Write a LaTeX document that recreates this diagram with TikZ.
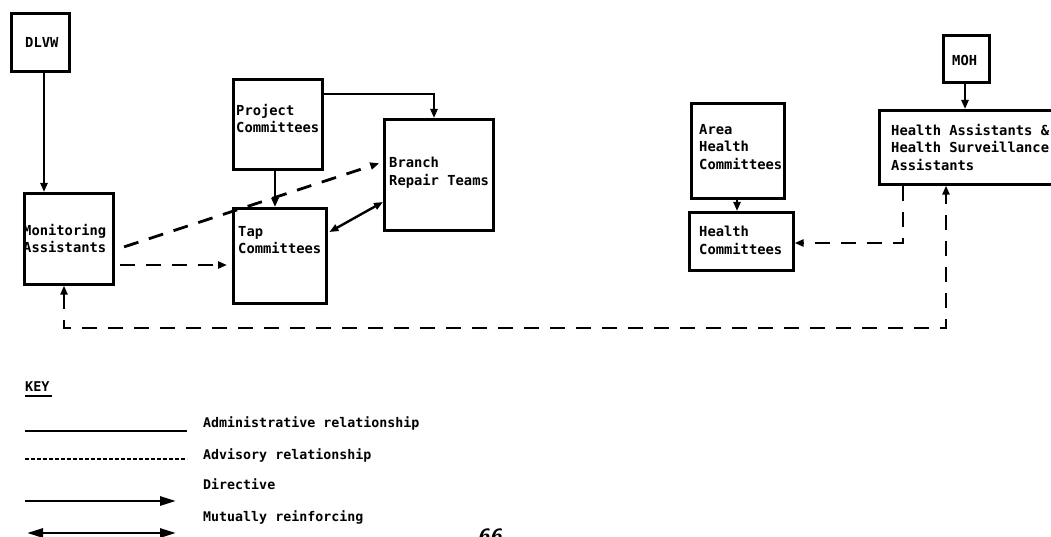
\documentclass[tikz,border=0pt]{standalone}
\usepackage{fontspec}
\newfontfamily\dmono{DejaVu Sans Mono}
\usetikzlibrary{arrows.meta,calc}

\tikzset{
  box/.style={draw, line width=2.6pt, rectangle, inner sep=0pt, anchor=north west},
  lbl/.style={font=\dmono\bfseries\fontsize{13.8}{17.5}\selectfont, align=left,
              inner sep=0pt, anchor=north west},
  rel/.style={line width=2.4pt},
  adv/.style={line width=2.8pt, dash pattern=on 15pt off 11pt},
  tip/.style={-{Triangle[length=9pt,width=7pt]}},
  tips/.style={{Triangle[length=9pt,width=7pt]}-{Triangle[length=9pt,width=7pt]}},
}

\begin{document}
\begin{tikzpicture}[x=1pt,y=-1pt]
\useasboundingbox (0,0) rectangle (1051,537);

% ---- organisation boxes
\node[box, minimum width=58pt, minimum height=58pt]  (dlvw) at (10,12)  {};
\node[box, minimum width=89pt, minimum height=91pt]  (ma)   at (23,192) {};
\node[box, minimum width=89pt, minimum height=90pt]  (pc)   at (232,78) {};
\node[box, minimum width=93pt, minimum height=95pt]  (tc)   at (232,207) {};
\node[box, minimum width=109pt, minimum height=111pt] (brt) at (383,118) {};
\node[box, minimum width=93pt, minimum height=95pt]  (ahc)  at (690,102) {};
\node[box, minimum width=104pt, minimum height=58pt] (hc)   at (688,211) {};
\node[box, minimum width=46pt, minimum height=47pt]  (moh)  at (942,34) {};
\node[box, minimum width=200pt, minimum height=74pt] (ha)   at (878,109) {};

% ---- box labels
\node[lbl] (tdlvw) at (25,37)  {DLVW};
\node[lbl] (tma)   at (23,224) {Monitoring\\Assistants};
\node[lbl] (tpc)   at (236,104) {Project\\Committees};
\node[lbl] (ttc)   at (238,226) {Tap\\Committees};
\node[lbl] (tbrt)  at (389,157) {Branch\\Repair Teams};
\node[lbl] (tahc)  at (699,124) {Area\\Health\\Committees};
\node[lbl] (thc)   at (699,226) {Health\\Committees};
\node[lbl] (tmoh)  at (952,55)  {MOH};
\node[lbl] (tha)   at (891,124) {Health Assistants \&\\Health Surveillance\\Assistants};

% ---- helper coordinates for connector columns and rows
\coordinate (x44)  at (44,0);
\coordinate (x275) at (275,0);
\coordinate (x434) at (434,0);
\coordinate (x737) at (737,0);
\coordinate (x965) at (965,0);
\coordinate (x903) at (903,0);
\coordinate (x64)  at (64,0);
\coordinate (y94)  at (0,94);
\coordinate (y233) at (0,233);
\coordinate (y202) at (0,202);
\coordinate (y250) at (0,250);
\coordinate (y162) at (0,162);
\coordinate (y265) at (0,265);
\coordinate (y243) at (0,243);
\coordinate (corner) at (946,328);

% ---- administrative / directive links
\draw[rel, tip] (dlvw.south -| x44) -- (ma.north -| x44);
\draw[rel, tip] (pc.east |- y94) -| (brt.north -| x434);
\draw[rel, tip] (pc.south -| x275) -- (tc.north -| x275);
\draw[rel, tips, shorten <=2pt] (tc.east |- y233) -- (brt.west |- y202);
\draw[rel, tip] (moh.south -| x965) -- (ha.north -| x965);
\draw[rel, tip] (ahc.south -| x737) -- (hc.north -| x737);

% ---- advisory links
\draw[adv, tip, shorten <=10pt, shorten >=4pt] (ma.east |- y250) -- (brt.west |- y162);
\draw[adv, tip, shorten <=5pt, shorten >=5pt] (ma.east |- y265) -- (tc.west |- y265);
\draw[adv, tip] (ha.south -| x903) |- (hc.east |- y243);
\draw[adv, tips] (ma.south -| x64) |- (corner) -- (ha.south -| corner);

% ---- key
\node[font=\dmono\bfseries\fontsize{13.5}{16}\selectfont, inner sep=0pt, anchor=west] (key) at (25,387) {KEY};
\draw[line width=2.4pt] (25,396) -- (52,396);

\coordinate (k1a) at (25,431);  \coordinate (k1b) at (187,431);
\coordinate (k2a) at (25,459);  \coordinate (k2b) at (187,459);
\coordinate (k3a) at (25,501);  \coordinate (k3b) at (176,501);
\coordinate (k4a) at (27,533);  \coordinate (k4b) at (176,533);
\draw[line width=2.8pt] (k1a) -- (k1b);
\draw[line width=2.6pt, dash pattern=on 4pt off 2pt] (k2a) -- (k2b);
\draw[line width=2.8pt, -{Triangle[length=16pt,width=9pt]}] (k3a) -- (k3b);
\draw[line width=2.8pt, {Triangle[length=16pt,width=9pt]}-{Triangle[length=16pt,width=9pt]}] (k4a) -- (k4b);

\tikzset{keytxt/.style={font=\dmono\bfseries\fontsize{13.3}{16}\selectfont, inner sep=0pt, anchor=west}}
\node[keytxt] (kt1) at (203,423) {Administrative relationship};
\node[keytxt] (kt2) at (203,455) {Advisory relationship};
\node[keytxt] (kt3) at (203,484) {Directive};
\node[keytxt] (kt4) at (203,517) {Mutually reinforcing};

% ---- page number, cut by the lower edge of the page
\node[font=\sffamily\bfseries\itshape\fontsize{22}{24}\selectfont, inner sep=0pt, anchor=north west] (pg) at (477,529) {66};
\end{tikzpicture}
\end{document}
